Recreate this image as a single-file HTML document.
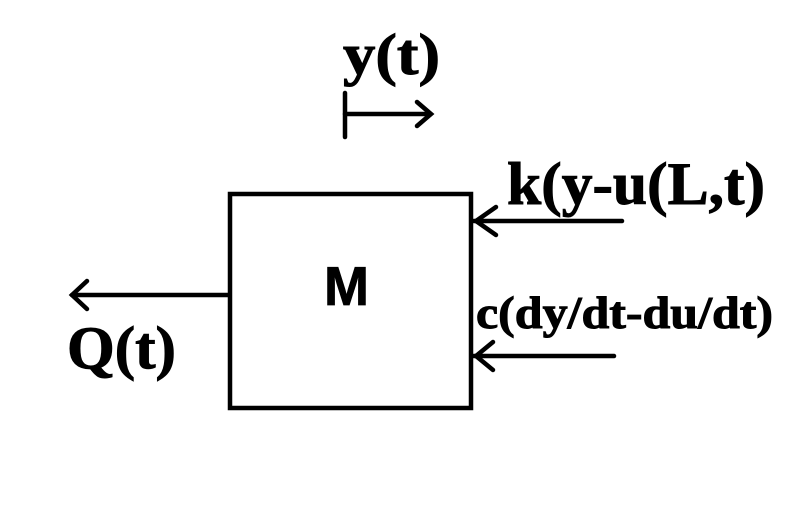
<!DOCTYPE html>
<html><head><meta charset="utf-8"><style>html,body{margin:0;padding:0;background:#fff}svg{display:block}</style></head>
<body>
<svg width="785" height="525" viewBox="0 0 785 525" xmlns="http://www.w3.org/2000/svg">
<rect width="785" height="525" fill="#fff"/>
<g stroke="#000" stroke-width="4.5" fill="none" stroke-linecap="round">
<rect x="230" y="194" width="241" height="214"/>
<line x1="345" y1="93" x2="345" y2="137"/>
<line x1="345" y1="114" x2="430" y2="114"/>
<polyline points="417,102 431,114 417,126"/>
<line x1="228" y1="295" x2="72" y2="295"/>
<polyline points="87,281 72,295 87,309"/>
<line x1="474" y1="221" x2="622" y2="221"/>
<polyline points="496,207 476,221 496,235"/>
<line x1="474" y1="356" x2="614" y2="356"/>
<polyline points="493,342 476,356 493,370"/>
</g>
<g font-family="Liberation Serif, serif" font-weight="bold" fill="#000" stroke="#000" stroke-width="1">
<text x="343" y="74" font-size="58" textLength="97" lengthAdjust="spacingAndGlyphs">y(t)</text>
<text x="507" y="204" font-size="60" textLength="258" lengthAdjust="spacingAndGlyphs">k(y-u(L,t)</text>
<text x="476" y="328" font-size="46" textLength="297" lengthAdjust="spacingAndGlyphs">c(dy/dt-du/dt)</text>
<text x="67" y="368" font-size="60" textLength="109" lengthAdjust="spacingAndGlyphs">Q(t)</text>
</g>
<text x="324" y="305" font-family="Liberation Sans, sans-serif" font-weight="bold" font-size="55" textLength="45" lengthAdjust="spacingAndGlyphs" stroke="#000" stroke-width="0.8">M</text>
</svg>
</body></html>
